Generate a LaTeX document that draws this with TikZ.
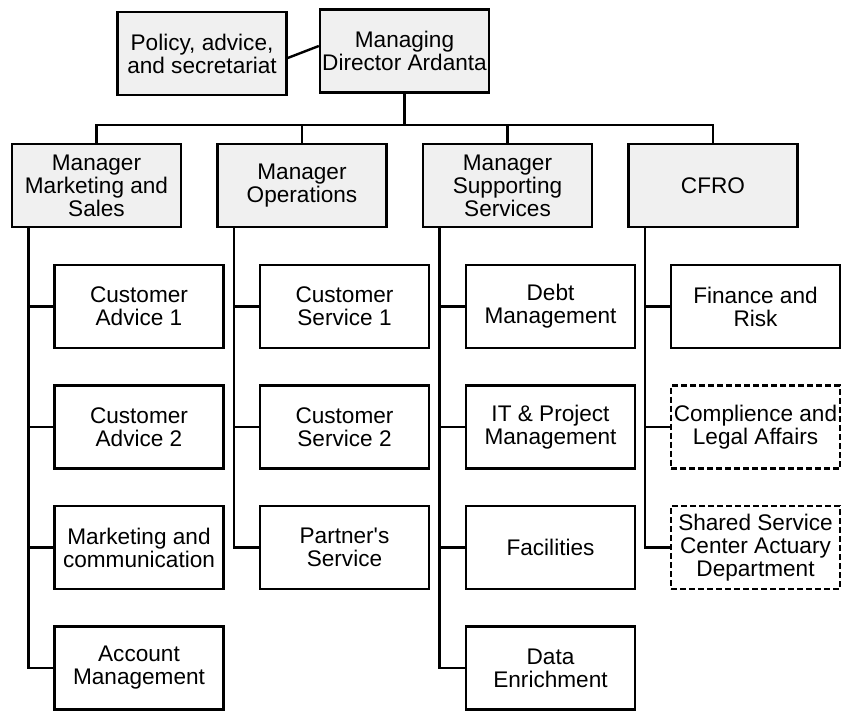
\documentclass[tikz,border=0pt]{standalone}
\usepackage{fontspec}
\setmainfont{Liberation Sans}
\newcommand{\straightq}{\XeTeXglyph\XeTeXcharglyph"27\relax}
\begin{document}
\begin{tikzpicture}[x=1pt,y=-1pt,
  box/.style={draw=black,line width=2.4pt,minimum width=169pt,minimum height=83pt,
    inner sep=0pt,align=center,font=\fontsize{22.6pt}{23pt}\selectfont},
  mgr/.style={box,fill=gray!12},
  unit/.style={box,fill=white},
  vacant/.style={box,fill=white,dash pattern=on 6pt off 3pt},
  wire/.style={line width=2.4pt}]
\useasboundingbox (0,0) rectangle (842,711);
% top
\node[mgr] (md) at (404.5,51) {Managing\\Director Ardanta};
\node[mgr] (pol) at (202,53.5) {Policy, advice,\\and secretariat};
\draw[wire] ([yshift=-4.5pt]pol.east) -- ([yshift=5pt]md.west);
% managers
\node[mgr] (ms) at (96.5,185.5) {Manager\\Marketing and\\Sales};
\node[mgr] (op) at (302,185.5) {Manager\\Operations};
\node[mgr] (ss) at (507.5,185.5) {Manager\\Supporting\\Services};
\node[mgr] (cf) at (713,185.5) {CFRO};
\coordinate (bus) at (404.5,125);
\draw[wire] (md.south) -- (bus);
\draw[wire] (ms.north) -- (ms.north |- bus) -- (cf.north |- bus) -- (cf.north);
\draw[wire] (op.north) -- (op.north |- bus);
\draw[wire] (ss.north) -- (ss.north |- bus);
% children
\node[unit] (ms1) at (139,306.5) {Customer\\Advice 1};
\node[unit] (ms2) at (139,427) {Customer\\Advice 2};
\node[unit] (ms3) at (139,547.5) {Marketing and\\communication};
\node[unit] (ms4) at (139,668) {Account\\Management};
\node[unit] (op1) at (344.5,306.5) {Customer\\Service 1};
\node[unit] (op2) at (344.5,427) {Customer\\Service 2};
\node[unit] (op3) at (344.5,547.5) {Partner\straightq s\\Service};
\node[unit] (ss1) at (550.5,306.5) {Debt\\Management};
\node[unit] (ss2) at (550.5,427) {IT \& Project\\Management};
\node[unit] (ss3) at (550.5,547.5) {Facilities};
\node[unit] (ss4) at (550.5,668) {Data\\Enrichment};
\node[unit] (cf1) at (755.5,306.5) {Finance and\\Risk};
\node[vacant] (cf2) at (755.5,427) {Complience and\\Legal Affairs};
\node[vacant] (cf3) at (755.5,547.5) {Shared Service\\Center Actuary\\Department};
% trunks
\coordinate (tms) at ([xshift=17.5pt]ms.south west);
\coordinate (top) at ([xshift=17.5pt]op.south west);
\coordinate (tss) at ([xshift=17.5pt]ss.south west);
\coordinate (tcf) at ([xshift=17.5pt]cf.south west);
\draw[wire] (tms) |- (ms4.west);
\draw[wire] (ms1.west) -- (ms1.west -| tms);
\draw[wire] (ms2.west) -- (ms2.west -| tms);
\draw[wire] (ms3.west) -- (ms3.west -| tms);
\draw[wire] (top) |- (op3.west);
\draw[wire] (op1.west) -- (op1.west -| top);
\draw[wire] (op2.west) -- (op2.west -| top);
\draw[wire] (tss) |- (ss4.west);
\draw[wire] (ss1.west) -- (ss1.west -| tss);
\draw[wire] (ss2.west) -- (ss2.west -| tss);
\draw[wire] (ss3.west) -- (ss3.west -| tss);
\draw[wire] (tcf) |- (cf3.west);
\draw[wire] (cf1.west) -- (cf1.west -| tcf);
\draw[wire] (cf2.west) -- (cf2.west -| tcf);
\end{tikzpicture}
\end{document}
